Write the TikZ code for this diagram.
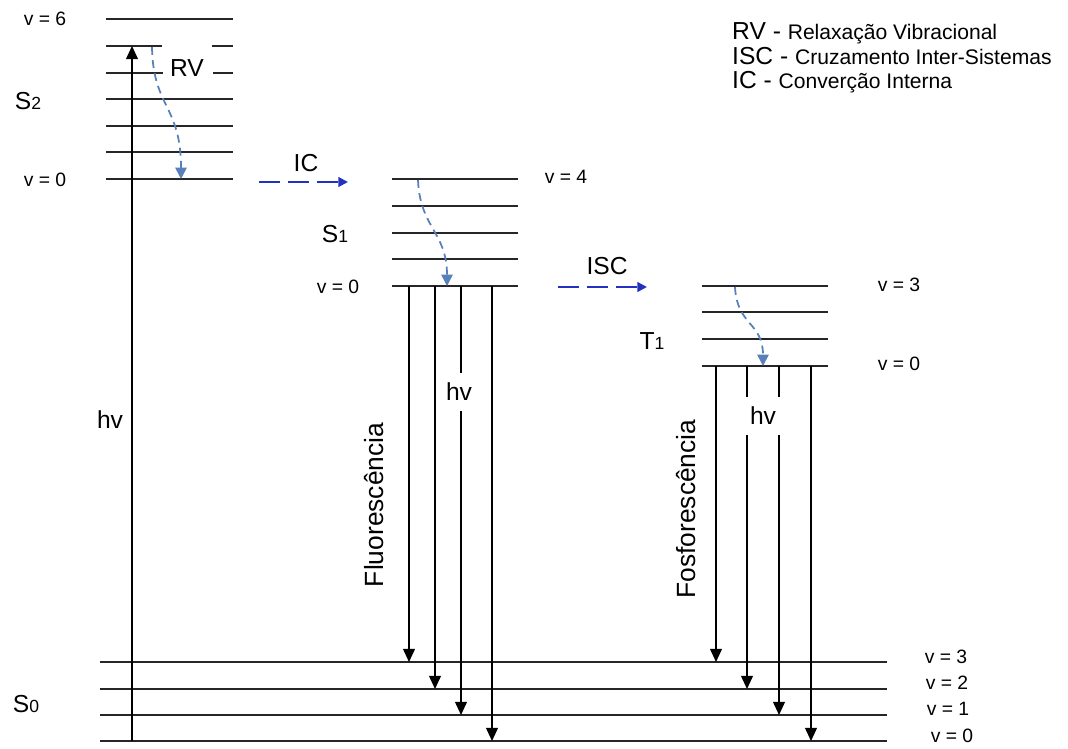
\documentclass[tikz,border=0pt]{standalone}
\usepackage{fontspec}
\setmainfont{Liberation Sans}
\usetikzlibrary{arrows.meta}

\definecolor{icblue}{RGB}{35,50,190}
\definecolor{rvblue}{RGB}{88,128,185}

\tikzset{
  level/.style={draw=black!85,line width=0.8pt},
  photon/.style={draw=black,line width=0.75pt,-{Triangle[length=7.5pt,width=6.8pt]}},
  relax/.style={draw=rvblue,line width=1pt,dash pattern=on 4.5pt off 3pt,-{Triangle[length=6.5pt,width=6.5pt,fill=rvblue]}},
  cross/.style={draw=icblue,line width=1.2pt,dash pattern=on 12pt off 4.5pt,-{Triangle[length=5.5pt,width=5.5pt]}},
  vlabel/.style={font=\fontsize{11}{13}\selectfont},
  statelabel/.style={font=\fontsize{14}{16}\selectfont},
  proclabel/.style={font=\fontsize{14}{16}\selectfont},
  hvlabel/.style={font=\fontsize{14}{16}\selectfont,fill=white,inner xsep=3.4pt,inner ysep=5.5pt},
  emission/.style={font=\fontsize{15}{17}\selectfont,rotate=90},
  legend/.style={anchor=base west,font=\fontsize{14}{16}\selectfont}
}
\newcommand{\legsmall}{\fontsize{12}{14}\selectfont}
\newcommand{\subidx}[1]{{\fontsize{10}{12}\selectfont #1}}

\begin{document}
\begin{tikzpicture}[x=0.02cm,y=-0.02cm]
\useasboundingbox (0,0) rectangle (1068,749);

% S2 levels (v = 6 ... v = 0)
\draw[level] (106,19) -- (233,19);
\draw[level] (106,46) -- (162,46);
\draw[level] (212,46) -- (233,46);
\draw[level] (106,73) -- (163,73);
\draw[level] (213,73) -- (233,73);
\draw[level] (106,99) -- (233,99);
\draw[level] (106,126) -- (233,126);
\draw[level] (106,152) -- (233,152);
\draw[level] (106,179) -- (233,179);

% S1 levels
\draw[level] (392,179) -- (518,179);
\draw[level] (392,206) -- (518,206);
\draw[level] (392,233) -- (518,233);
\draw[level] (392,259) -- (518,259);
\draw[level] (392,286) -- (518,286);

% T1 levels
\draw[level] (702,286) -- (828,286);
\draw[level] (702,312) -- (828,312);
\draw[level] (702,339) -- (828,339);
\draw[level] (702,366) -- (828,366);

% S0 levels
\draw[level] (100,662) -- (887,662);
\draw[level] (100,689) -- (887,689);
\draw[level] (100,715) -- (887,715);
\draw[level] (100,741) -- (887,741);

% arrow ends
\coordinate (abs0) at (132,741);
\coordinate (abs1) at (132,46);
\coordinate (fl1a) at (409,286);  \coordinate (fl1b) at (409,662);
\coordinate (fl2a) at (435,286);  \coordinate (fl2b) at (435,689);
\coordinate (fl3a) at (461,286);  \coordinate (fl3b) at (461,715);
\coordinate (fl4a) at (492,286);  \coordinate (fl4b) at (492,741);
\coordinate (ph1a) at (716,366);  \coordinate (ph1b) at (716,662);
\coordinate (ph2a) at (747,366);  \coordinate (ph2b) at (747,689);
\coordinate (ph3a) at (779,366);  \coordinate (ph3b) at (779,715);
\coordinate (ph4a) at (811,366);  \coordinate (ph4b) at (811,741);
\coordinate (rv2a) at (152,47);   \coordinate (rv2b) at (181,179);
\coordinate (rv1a) at (418,180);  \coordinate (rv1b) at (447,286);
\coordinate (rvta) at (735,287);  \coordinate (rvtb) at (763,366);
\coordinate (ica) at (259,182);   \coordinate (icb) at (348,182);
\coordinate (isca) at (558,287);  \coordinate (iscb) at (647,287);

% absorption and emission
\draw[photon] (abs0) -- (abs1);
\draw[photon] (fl1a) -- (fl1b);
\draw[photon] (fl2a) -- (fl2b);
\draw[photon] (fl3a) -- (fl3b);
\draw[photon] (fl4a) -- (fl4b);
\draw[photon] (ph1a) -- (ph1b);
\draw[photon] (ph2a) -- (ph2b);
\draw[photon] (ph3a) -- (ph3b);
\draw[photon] (ph4a) -- (ph4b);

% vibrational relaxation
\draw[relax] (rv2a) .. controls (153,108) and (181,105) .. (rv2b);
\draw[relax] (rv1a) .. controls (420,228) and (447,232) .. (rv1b);
\draw[relax] (rvta) .. controls (737,326) and (763,322) .. (rvtb);

% IC and ISC
\draw[cross] (ica) -- (icb);
\draw[cross] (isca) -- (iscb);

% labels
\node[vlabel] (s2top) at (45,19) {v = 6};
\node[vlabel] (s2low) at (45,180) {v = 0};
\node[statelabel] (s2) at (28,101) {S\subidx{2}};
\node[proclabel] (rv) at (187,68) {RV};
\node[proclabel] (ic) at (306,163) {IC};
\node[statelabel] (s1) at (335,234) {S\subidx{1}};
\node[vlabel] (s1top) at (566,177) {v = 4};
\node[vlabel] (s1low) at (338,287) {v = 0};
\node[proclabel] (isc) at (607,266) {ISC};
\node[statelabel] (t1) at (652,341) {T\subidx{1}};
\node[vlabel] (t1top) at (899,285) {v = 3};
\node[vlabel] (t1low) at (899,364) {v = 0};
\node[statelabel] (s0) at (26,704) {S\subidx{0}};
\node[vlabel] (s0v3) at (946,657) {v = 3};
\node[vlabel] (s0v2) at (947,683) {v = 2};
\node[vlabel] (s0v1) at (948,709) {v = 1};
\node[vlabel] (s0v0) at (952,736) {v = 0};

\node[hvlabel,fill=none] (hvabs) at (110,420) {hv};
\node[hvlabel] (hvfl) at (459,392) {hv};
\node[hvlabel] (hvph) at (763,416) {hv};
\node[emission] (fluor) at (374,505) {Fluorescência};
\node[emission] (phos) at (686,509) {Fosforescência};

% legend
\node[legend] (legrv) at (726,40) {RV - {\legsmall Relaxação Vibracional}};
\node[legend] (legisc) at (726,65) {ISC - {\legsmall Cruzamento Inter-Sistemas}};
\node[legend] (legic) at (726,89) {IC - {\legsmall Converção Interna}};
\end{tikzpicture}
\end{document}
